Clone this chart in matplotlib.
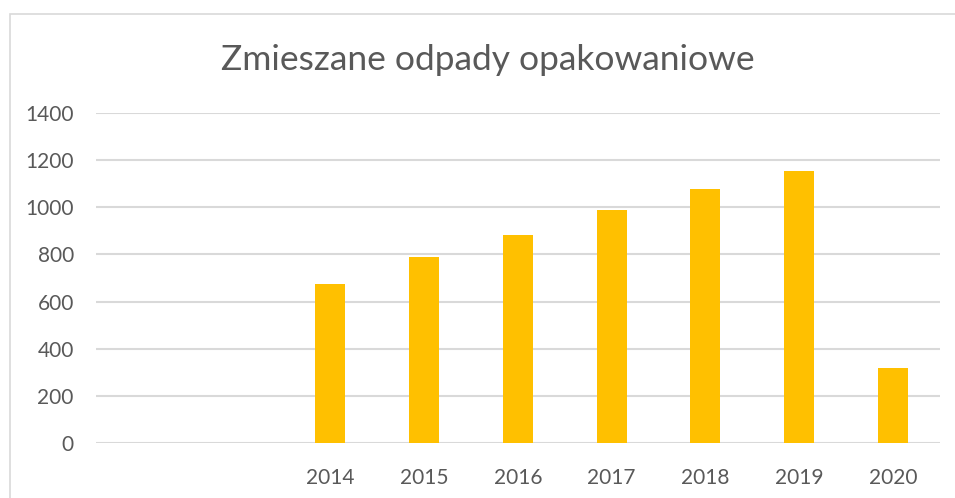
import matplotlib.pyplot as plt
from matplotlib.patches import Rectangle
import numpy as np

title = 'Zmieszane odpady opakowaniowe'
categories = ['', '', '2014', '2015', '2016', '2017', '2018', '2019', '2020']
values = [0, 0, 675, 789, 882, 990, 1078, 1154, 318]
yticks = [0, 200, 400, 600, 800, 1000, 1200, 1400]

plt.rcParams['font.family'] = ['Lato', 'DejaVu Sans']
text_color = '#595959'
grid_color = '#d9d9d9'

fig = plt.figure(figsize=(9.55, 4.98), dpi=100)
ax = fig.add_axes([0.1005, 0.1104, 0.8835, 0.6627])

x = np.arange(len(categories))
ax.bar(x, values, width=0.32, color='#FFC000', zorder=3)

ax.set_xlim(-0.5, len(categories) - 0.5)
ax.set_ylim(0, 1400)
ax.set_xticks(x)
ax.set_xticklabels(categories)
ax.set_yticks(yticks)
ax.set_yticklabels([str(t) for t in yticks])
ax.tick_params(axis='both', length=0, labelsize=15, colors=text_color)
ax.tick_params(axis='x', pad=18)
ax.tick_params(axis='y', pad=16)
ax.grid(axis='y', color=grid_color, linewidth=1.5, zorder=0)
for s in ax.spines.values():
    s.set_visible(False)

fig.text(0.511, 0.88, title, ha='center', va='center', fontsize=25.5,
         color=text_color)

# outer chart frame (cut off at right and bottom)
fig.patches.append(Rectangle((10 / 955, -0.1), 1.2, 1 - 14 / 498 + 0.1,
                             transform=fig.transFigure, fill=False,
                             edgecolor=grid_color, linewidth=1.2))

fig.savefig('out.png', dpi=100)
